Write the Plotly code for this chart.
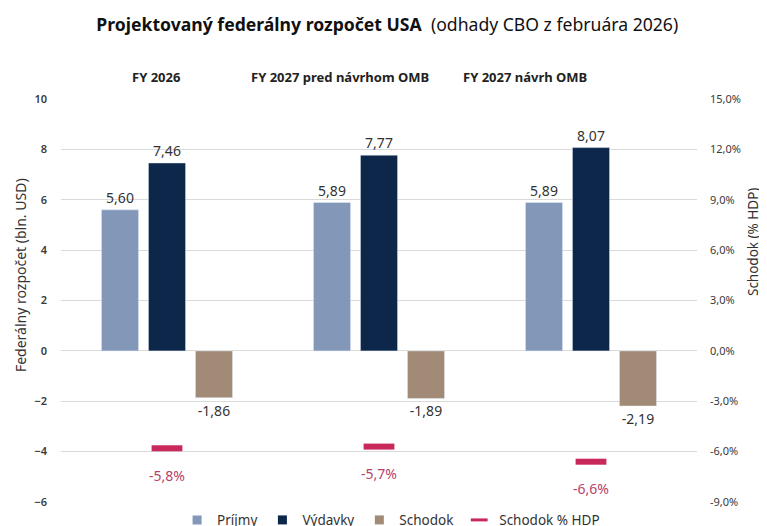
import plotly.graph_objects as go

categories = ["FY 2026", "FY 2027 pred návrhom OMB", "FY 2027 návrh OMB"]
prijmy = [5.60, 5.89, 5.89]
vydavky = [7.46, 7.77, 8.07]
schodok = [-1.86, -1.89, -2.19]
schodok_hdp = [-5.8, -5.7, -6.6]
left_ticks = [-6, -4, -2, 0, 2, 4, 6, 8, 10]
right_ticks = [-9, -6, -3, 0, 3, 6, 9, 12, 15]

FONT = "Noto Sans"
TXT = "#333333"
C_PRIJMY = "#8397B9"
C_VYDAVKY = "#0C2749"
C_SCHODOK = "#A28B76"
C_HDP = "#C8285A"

fig = go.Figure()
bar_text_font = dict(family=FONT, size=14, color=TXT)
for name, vals, col in [("Príjmy", prijmy, C_PRIJMY), ("Výdavky", vydavky, C_VYDAVKY),
                        ("Schodok", schodok, C_SCHODOK)]:
    fig.add_trace(go.Bar(x=categories, y=vals, name=name, marker_color=col,
                         texttemplate="%{y:.2f}", textposition="outside",
                         textfont=bar_text_font, cliponaxis=False, showlegend=False))

fig.add_trace(go.Scatter(x=categories, y=schodok_hdp, name="Schodok % HDP", yaxis="y2",
                         mode="markers", showlegend=False,
                         marker=dict(symbol="line-ew", size=22, color=C_HDP,
                                     line=dict(color=C_HDP, width=6)),
                         cliponaxis=False))

# legend entries (small square swatches like the reference)
for name, col in [("Príjmy", C_PRIJMY), ("Výdavky", C_VYDAVKY), ("Schodok", C_SCHODOK)]:
    fig.add_trace(go.Scatter(x=[None], y=[None], name=name, mode="markers",
                             marker=dict(symbol="square", size=9, color=col)))
fig.add_trace(go.Scatter(x=[None], y=[None], name="Schodok % HDP", mode="markers",
                         marker=dict(symbol="line-ew", size=12, color=C_HDP,
                                     line=dict(color=C_HDP, width=3))))

annotations = []
for c, v in zip(categories, schodok_hdp):
    annotations.append(dict(x=c, y=v, xref="x", yref="y2", text=f"{v:.1f}%".replace(".", ","),
                            showarrow=False, yshift=-27,
                            font=dict(family=FONT, size=14, color="#B83F6E")))

label_x = [0.149, 0.439, 0.730]
for c, px in zip(categories, label_x):
    annotations.append(dict(x=px, y=1.055, xref="paper", yref="paper", text=f"<b>{c}</b>",
                            showarrow=False, xanchor="center", yanchor="middle",
                            font=dict(family=FONT, size=13, color="#222222")))

annotations.append(dict(x=-0.0645, y=0.563, xref="paper", yref="paper",
                        text="Federálny rozpočet (bln. USD)", textangle=-90, showarrow=False,
                        xanchor="center", yanchor="middle",
                        font=dict(family=FONT, size=14, color="#333333")))
annotations.append(dict(x=1.088, y=0.645, xref="paper", yref="paper",
                        text="Schodok (% HDP)", textangle=-90, showarrow=False,
                        xanchor="center", yanchor="middle",
                        font=dict(family=FONT, size=13.5, color="#333333")))

right_text = [f"{v:.1f}%".replace(".", ",") for v in right_ticks]

fig.update_layout(
    width=759, height=518,
    margin=dict(l=53, r=70, t=91, b=24, autoexpand=False),
    plot_bgcolor="white", paper_bgcolor="white",
    separators=", ",
    barmode="group", bargap=0.335, bargroupgap=0.21,
    font=dict(family=FONT, color=TXT),
    title=dict(text="<b>Projektovaný federálny rozpočet USA</b>  (odhady CBO z februára 2026)",
               x=0.513, xref="paper", xanchor="center", y=0.967, yanchor="middle",
               font=dict(family=FONT, size=17.6, color="#111111")),
    xaxis=dict(showticklabels=False, showgrid=False, zeroline=False, showline=False),
    yaxis=dict(range=[-6, 10], tickvals=left_ticks, showgrid=True, gridcolor="#DADADA",
               gridwidth=1, zeroline=True, zerolinecolor="#DADADA", zerolinewidth=1,
               ticks="", ticklabelstandoff=13,
               tickfont=dict(family=FONT, size=11, color="#3a3a3a", weight=600)),
    yaxis2=dict(range=[-9, 15], tickvals=right_ticks, ticktext=right_text,
                overlaying="y", side="right",
                showgrid=False, zeroline=False,
                ticks="", ticklabelstandoff=12,
                tickfont=dict(family=FONT, size=11, color="#3a3a3a")),
    legend=dict(orientation="h", x=0.519, xanchor="center", y=-0.045, yanchor="middle",
                font=dict(family=FONT, size=13.5, color="#333333"), traceorder="normal",
                itemwidth=30),
    showlegend=True,
    annotations=annotations,
)

fig.write_html("out.html")
